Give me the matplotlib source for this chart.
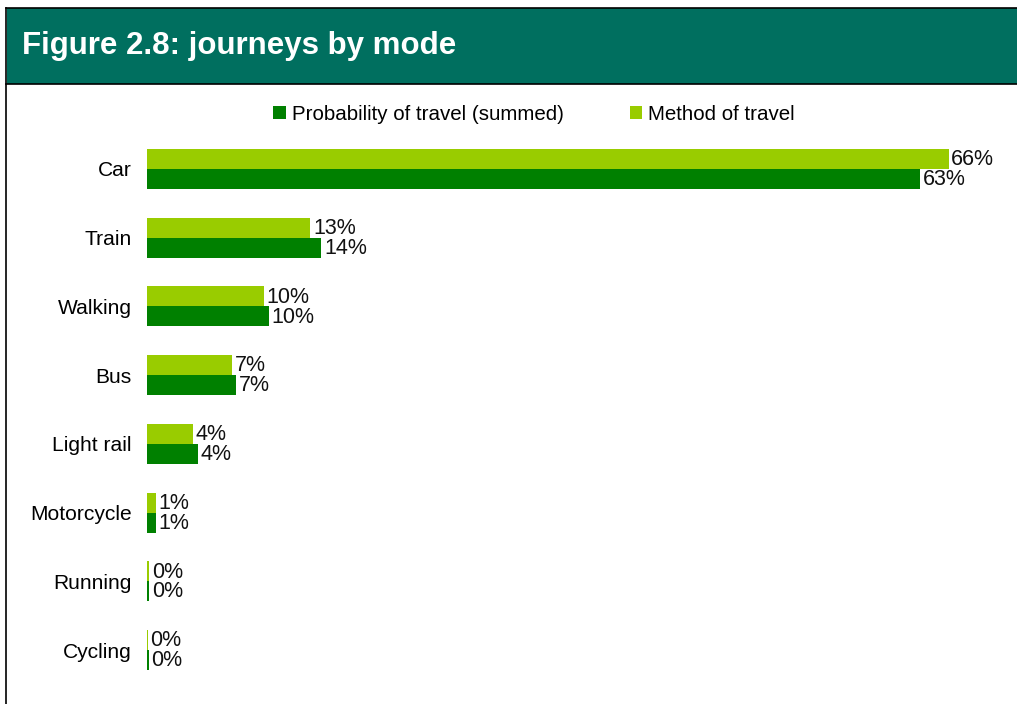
import matplotlib.pyplot as plt
import numpy as np

plt.rcParams['font.family'] = ['Liberation Sans', 'DejaVu Sans']

# modes and shares (%)
modes = ["Car", "Train", "Walking", "Bus", "Light rail", "Motorcycle", "Running", "Cycling"]
method_of_travel = [65.7, 13.4, 9.6, 7.0, 3.8, 0.7, 0.2, 0.05]
prob_of_travel = [63.4, 14.3, 10.0, 7.3, 4.2, 0.7, 0.2, 0.15]

col_method = "#99CC00"
col_prob = "#008000"
col_header = "#006F5F"

W, H = 1017, 704
fig = plt.figure(figsize=(W / 100, H / 100), dpi=100)

# header band + frame lines
fig.patches.append(plt.Rectangle((7 / W, 1 - 84 / H), 1 - 7 / W, 76 / H,
                                 transform=fig.transFigure, facecolor=col_header,
                                 edgecolor="none"))
fig.add_artist(plt.Line2D([6 / W, 1], [1 - 8 / H, 1 - 8 / H], color="black", lw=1.2,
                          transform=fig.transFigure))
fig.add_artist(plt.Line2D([6 / W, 1], [1 - 84 / H, 1 - 84 / H], color="black", lw=1.2,
                          transform=fig.transFigure))
fig.add_artist(plt.Line2D([6 / W, 6 / W], [0, 1 - 8 / H], color="black", lw=1.2,
                          transform=fig.transFigure))
fig.text(22 / W, 1 - 46 / H, "Figure 2.8: journeys by mode", color="white",
         fontsize=22.5, fontweight="bold", va="center", ha="left")

# plot area
ax_left, ax_right = 147, 147 + 70 * 12.2
ax_top, ax_bot = 134.6, 684.4
ax = fig.add_axes([ax_left / W, 1 - ax_bot / H, (ax_right - ax_left) / W,
                   (ax_bot - ax_top) / H])

y = np.arange(len(modes))
h = 0.29
b1 = ax.barh(y - h / 2, method_of_travel, height=h, color=col_method, label="Method of travel")
b2 = ax.barh(y + h / 2, prob_of_travel, height=h, color=col_prob,
             label="Probability of travel (summed)")

for bars, vals in ((b1, method_of_travel), (b2, prob_of_travel)):
    for bar, v in zip(bars, vals):
        ax.text(bar.get_width() + 0.2, bar.get_y() + bar.get_height() / 2 + 0.01,
                f"{v:.0f}%", va="center", ha="left", fontsize=15.5, color="#111111")

ax.set_xlim(0, 70)
ax.set_ylim(len(modes) - 0.5, -0.5)
ax.set_yticks(y)
ax.set_yticklabels(modes, fontsize=15.1)
ax.set_xticks([])
ax.tick_params(axis="y", length=0, pad=11)
for s in ax.spines.values():
    s.set_visible(False)

handles = [b2, b1]
fig.legend(handles, [hh.get_label() for hh in handles], loc="center",
           bbox_to_anchor=(534 / W, 1 - 114 / H), ncol=2, frameon=False,
           fontsize=14.8, handlelength=0.6, handleheight=0.6, handletextpad=0.3,
           columnspacing=3.2)

fig.savefig("out.png", dpi=100)
